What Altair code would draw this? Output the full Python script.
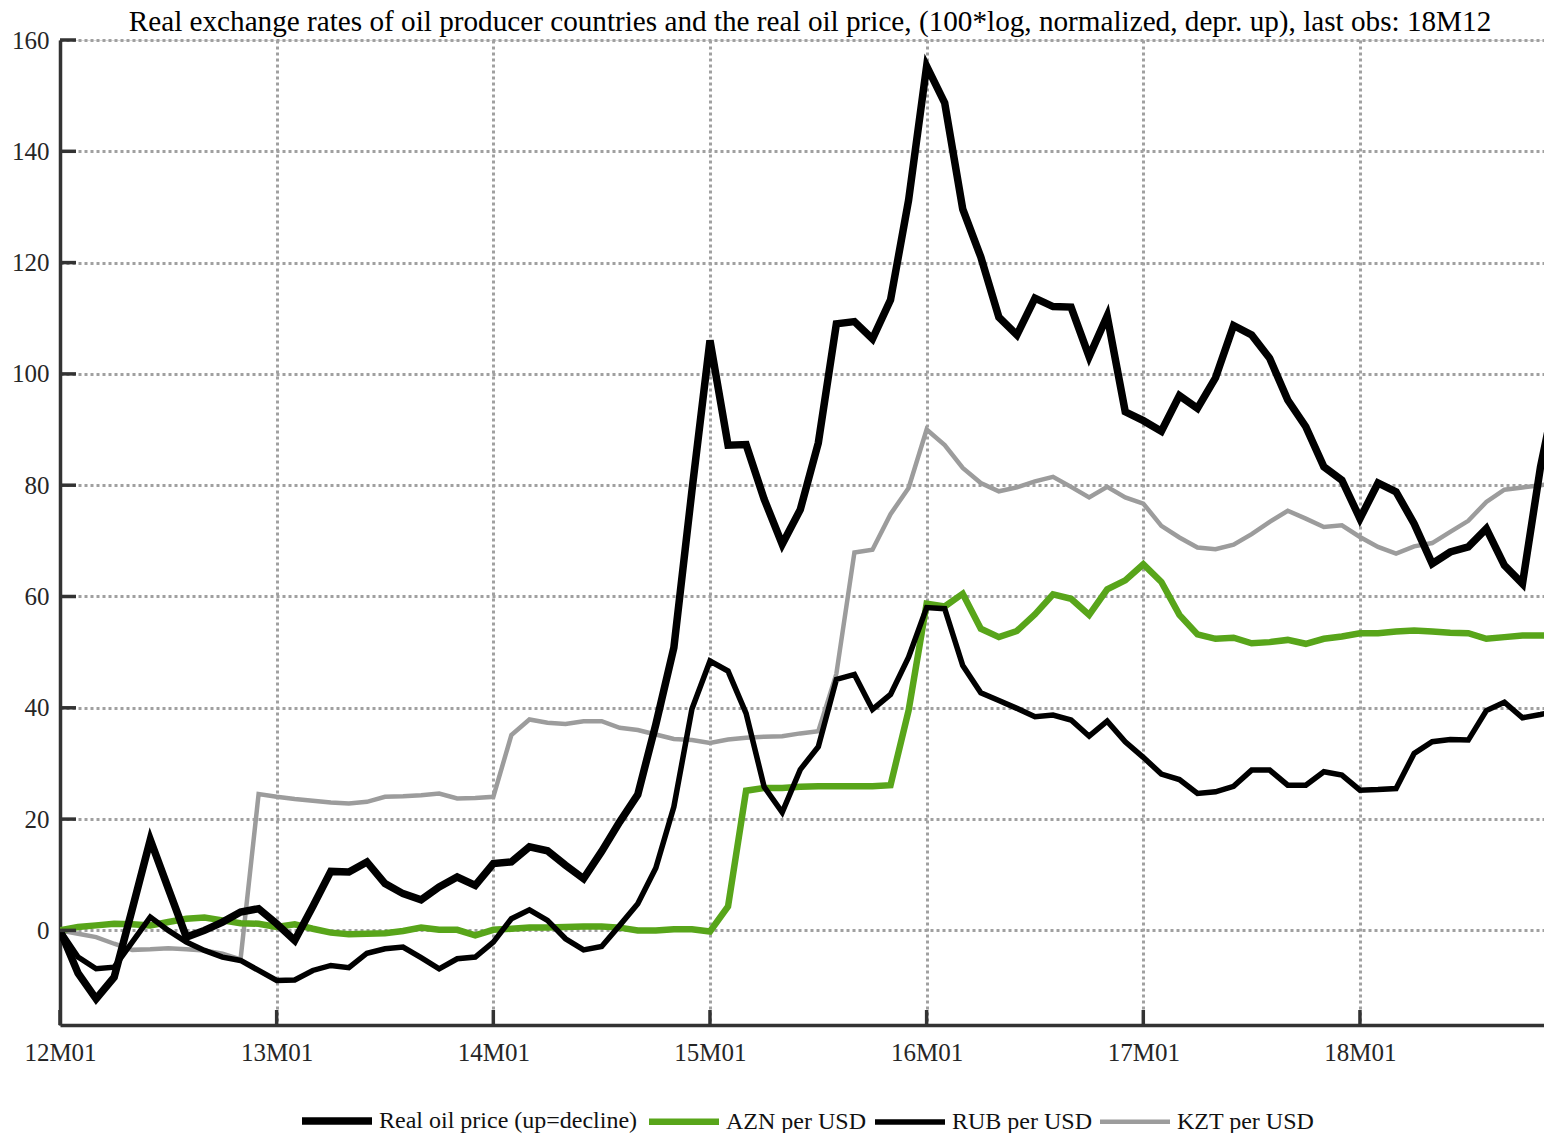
import altair as alt
import pandas as pd

# ---- data ----
months = [f"{y:02d}M{m:02d}" for y in range(12, 19) for m in range(1, 13)]
year_labels = ["12M01", "13M01", "14M01", "15M01", "16M01", "17M01", "18M01"]
y_ticks = [0, 20, 40, 60, 80, 100, 120, 140, 160]

oil = [0, -7.7, -12.3, -8.4, 3.8, 16.3, 7.5, -1.2, 0.0, 1.5, 3.3, 3.9,
       1.2, -1.8, 4.3, 10.6, 10.5, 12.3, 8.4, 6.6, 5.5, 7.8, 9.6, 8.1,
       12.0, 12.3, 15.0, 14.3, 11.7, 9.3, 14.2, 19.5, 24.4, 37.0, 50.8, 79.0,
       106.0, 87.2, 87.3, 77.5, 69.4, 75.6, 87.6, 109.0, 109.4, 106.3, 113.3, 131.2,
       155.3, 148.7, 129.6, 121.0, 110.2, 107.0, 113.6, 112.1, 112.0, 103.1, 110.4, 93.2,
       91.6, 89.7, 96.1, 93.8, 99.3, 108.7, 107.0, 102.8, 95.3, 90.5, 83.3, 80.9,
       74.0, 80.4, 78.8, 73.1, 65.9, 68.0, 68.9, 72.2, 65.6, 62.3, 83.3, 99.0]

azn = [0, 0.6, 0.9, 1.2, 1.1, 0.9, 1.5, 2.1, 2.3, 1.8, 1.3, 1.2,
       0.6, 1.1, 0.3, -0.4, -0.7, -0.6, -0.5, -0.1, 0.5, 0.1, 0.1, -0.9,
       0.1, 0.3, 0.5, 0.5, 0.6, 0.7, 0.7, 0.5, 0.0, 0.0, 0.2, 0.2,
       -0.2, 4.3, 25.1, 25.6, 25.6, 25.8, 25.9, 25.9, 25.9, 25.9, 26.1, 39.5,
       58.7, 58.2, 60.5, 54.2, 52.7, 53.8, 56.8, 60.4, 59.6, 56.7, 61.3, 62.9,
       65.8, 62.6, 56.7, 53.2, 52.4, 52.6, 51.6, 51.8, 52.2, 51.5, 52.4, 52.8,
       53.4, 53.4, 53.7, 53.9, 53.7, 53.5, 53.4, 52.4, 52.7, 53.0, 53.0, 53.0]

rub = [0, -4.8, -6.9, -6.6, -2.1, 2.4, 0.0, -2.1, -3.6, -4.8, -5.4, -7.2,
       -9.0, -8.9, -7.2, -6.3, -6.7, -4.1, -3.3, -3.0, -4.9, -6.9, -5.1, -4.8,
       -2.1, 2.1, 3.7, 1.8, -1.5, -3.5, -2.9, 0.9, 4.8, 11.2, 22.2, 39.8,
       48.4, 46.6, 39.0, 25.8, 21.2, 28.9, 33.0, 45.1, 46.0, 39.7, 42.4, 49.1,
       58.0, 57.8, 47.6, 42.7, 41.3, 39.9, 38.4, 38.7, 37.8, 34.9, 37.6, 33.9,
       31.1, 28.1, 27.1, 24.6, 24.9, 25.9, 28.8, 28.8, 26.1, 26.1, 28.5, 27.9,
       25.2, 25.3, 25.5, 31.8, 33.9, 34.3, 34.2, 39.5, 41.0, 38.2, 38.8, 39.5]

kzt = [0, -0.6, -1.2, -2.4, -3.5, -3.4, -3.2, -3.4, -3.6, -4.2, -5.2, 24.5,
       24.0, 23.6, 23.3, 23.0, 22.8, 23.1, 24.0, 24.1, 24.3, 24.6, 23.7, 23.8,
       24.0, 35.1, 37.9, 37.3, 37.1, 37.6, 37.6, 36.4, 36.0, 35.2, 34.4, 34.2,
       33.7, 34.3, 34.6, 34.8, 34.9, 35.4, 35.8, 46.1, 67.9, 68.4, 74.8, 79.5,
       90.0, 87.2, 83.1, 80.4, 78.9, 79.6, 80.7, 81.5, 79.7, 77.8, 79.7, 77.8,
       76.7, 72.7, 70.6, 68.8, 68.5, 69.3, 71.2, 73.4, 75.4, 74.0, 72.5, 72.8,
       70.7, 68.9, 67.7, 69.0, 69.6, 71.6, 73.6, 77.0, 79.2, 79.6, 80.0, 80.5]

series_names = ["Real oil price (up=decline)", "AZN per USD", "RUB per USD", "KZT per USD"]
series_values = [oil, azn, rub, kzt]
series_colors = ["#000000", "#58a51a", "#000000", "#9c9c9c"]
series_widths = [7.5, 4.5, 4, 4.5]
draw_order = ["KZT per USD", "AZN per USD", "RUB per USD", "Real oil price (up=decline)"]

title_text = ("Real exchange rates of oil producer countries and the real oil price, "
              "(100*log, normalized, depr. up), last obs: 18M12")

rows = []
for name, vals in zip(series_names, series_values):
    for i, v in enumerate(vals):
        rows.append({"series": name, "t": i, "month": months[i], "value": v})
df = pd.DataFrame(rows)

FONT = "Liberation Serif"
W, H = 1484, 985
PX_PER_MONTH = 18.055
XMAX = W / PX_PER_MONTH
YMIN, YMAX = -17, 160

year_idx = [months.index(m) for m in year_labels]
label_expr = "[" + ",".join(f"'{m}'" for m in year_labels) + "][round(datum.value/12)]"

xscale = alt.Scale(domain=[0, XMAX], nice=False, zero=False)
yscale = alt.Scale(domain=[YMIN, YMAX], nice=False, zero=False)

GRID = dict(grid=True, gridColor="#a0a0a0", gridDash=[3, 3], gridWidth=3)
x_axis = alt.Axis(values=year_idx, labelExpr=label_expr, title=None, **GRID,
                  ticks=False, domainColor="#333333", domainWidth=3.5,
                  labelFont=FONT, labelFontSize=25, labelColor="#262626",
                  labelPadding=15, labelFlush=False)
y_axis = alt.Axis(values=y_ticks, title=None, **GRID,
                  ticks=False, domainColor="#333333", domainWidth=3.5,
                  labelFont=FONT, labelFontSize=25, labelColor="#262626",
                  labelPadding=11)

legend = alt.Legend(title=None, orient="none", legendX=238, legendY=1042,
                    direction="horizontal", columns=4, symbolType="stroke",
                    symbolSize=4900, labelFont=FONT, labelFontSize=24,
                    labelColor="#111111", labelOffset=3, columnPadding=-2,
                    labelLimit=500)

base = alt.Chart(df).mark_line(clip=True, strokeJoin="miter", strokeCap="butt").encode(
    x=alt.X("t:Q", scale=xscale, axis=x_axis),
    y=alt.Y("value:Q", scale=yscale, axis=y_axis),
    color=alt.Color("series:N", scale=alt.Scale(domain=series_names, range=series_colors),
                    legend=legend),
    strokeWidth=alt.StrokeWidth("series:N",
                                scale=alt.Scale(domain=series_names, range=series_widths),
                                legend=legend),
)

line_layers = [base.transform_filter(alt.datum.series == s) for s in draw_order]

ytick_df = pd.DataFrame({"v": y_ticks})
xtick_df = pd.DataFrame({"t": year_idx})
ytick_rules = alt.Chart(ytick_df).mark_rule(color="#333333", strokeWidth=3.5).encode(
    y=alt.Y("v:Q", scale=yscale, axis=y_axis), x=alt.value(0), x2=alt.value(16))
xtick_rules = alt.Chart(xtick_df).mark_rule(color="#333333", strokeWidth=3.5).encode(
    x=alt.X("t:Q", scale=xscale, axis=x_axis), y=alt.value(H), y2=alt.value(H - 15))

chart = alt.layer(*line_layers, ytick_rules, xtick_rules).properties(
    width=W, height=H,
    title=alt.TitleParams(title_text, font=FONT, fontSize=29.2, fontWeight="normal",
                          color="#000000", anchor="middle", offset=-9, dx=8),
    autosize=alt.AutoSizeParams(type="none"),
    padding={"left": 52, "top": 32, "right": 0, "bottom": 108},
).configure_view(stroke=None).configure(background="white")

chart.save("out.html", embed_options={"renderer": "svg", "actions": False})
